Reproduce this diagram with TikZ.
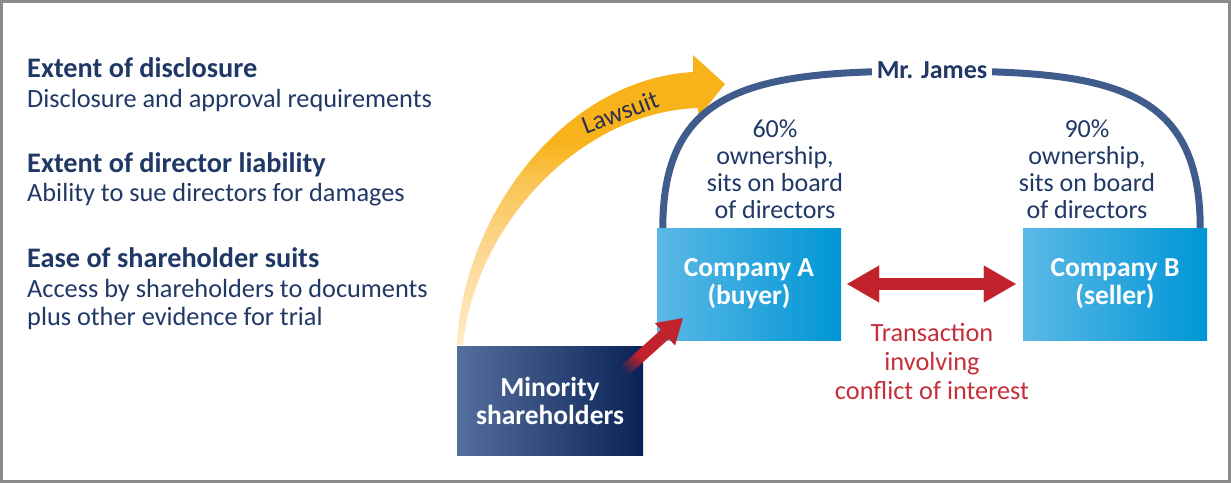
\documentclass[tikz,border=0pt]{standalone}
\usepackage{fontspec}
\setmainfont{Carlito}
\usetikzlibrary{arrows.meta,fadings}

\definecolor{navytext}{HTML}{1F3866}
\definecolor{arcblue}{HTML}{405C8C}
\definecolor{arrred}{HTML}{C1222B}
\definecolor{txred}{HTML}{C62F39}
\definecolor{compL}{HTML}{5BB8E6}
\definecolor{compR}{HTML}{0096D6}
\definecolor{minL}{HTML}{566E9E}
\definecolor{minR}{HTML}{0A2357}
\definecolor{gold}{HTML}{F8B31B}
\definecolor{lawA}{HTML}{FEEBC6}
\definecolor{lawB}{HTML}{FDD894}
\definecolor{lawC}{HTML}{FAC454}
\definecolor{lawtext}{HTML}{2E3050}
\definecolor{framegray}{HTML}{8C8C8C}

% pale tail of the lawsuit arrow turning gold towards its head
\pgfdeclareverticalshading{lawshade}{100bp}{color(0bp)=(lawA); color(25bp)=(lawA); color(41bp)=(lawB); color(53bp)=(lawC); color(60bp)=(gold); color(100bp)=(gold)}
% the red arrow fades in only near its tail
\pgfdeclarehorizontalshading{tailfadeshade}{100bp}{color(0bp)=(pgftransparent!100); color(22bp)=(pgftransparent!100); color(38bp)=(pgftransparent!0); color(100bp)=(pgftransparent!0)}
\pgfdeclarefading{tailfade}{\pgfuseshading{tailfadeshade}}

\begin{document}
\begin{tikzpicture}[x=1pt,y=-1pt,
  body/.style={font=\fontsize{26.3}{28}\selectfont, text=navytext, inner sep=0pt},
  head/.style={font=\fontsize{28.3}{28}\selectfont\bfseries, text=navytext, inner sep=0pt},
  own/.style={font=\fontsize{26}{27}\selectfont, text=navytext, align=center, inner sep=0pt},
  box/.style={minimum width=184pt, minimum height=112pt, inner sep=0pt, text=white,
    align=center, font=\fontsize{27.5}{28}\selectfont\bfseries},
  arcline/.style={draw=arcblue, line width=7pt},
  dblarrow/.style={draw=arrred, line width=12pt,
    {Triangle[width=37pt,length=32pt,line width=0.1pt]}-{Triangle[width=37pt,length=32pt,line width=0.1pt]}},
  redarrow/.style={draw=arrred, line width=12pt,
    -{Triangle[width=30pt,length=24pt,line width=0.1pt]}}
]
\useasboundingbox (0,0) rectangle (1231,483);
\draw[framegray, line width=2.5pt] (1.5,1.5) rectangle (1229.5,481.5);

% legend on the left
\node[head, anchor=base west] (h1) at (27,77) {Extent of disclosure};
\node[body, anchor=base west] (s1) at (27,107) {Disclosure and approval requirements};
\node[head, anchor=base west] (h2) at (27,172) {Extent of director liability};
\node[body, anchor=base west] (s2) at (27,201) {Ability to sue directors for damages};
\node[head, anchor=base west] (h3) at (27,267) {Ease of shareholder suits};
\node[body, anchor=base west] (s3) at (27,297) {Access by shareholders to documents};
\node[body, anchor=base west] (s4) at (27,325) {plus other evidence for trial};

% lawsuit arrow
\shade[shading=lawshade] (457,345) .. controls (462,220) and (560,80) .. (693,72)
  -- (693,55) -- (725,84) -- (698,118) -- (698,108)
  .. controls (580,112) and (475,225) .. (463,345) -- cycle;
\node[font=\fontsize{26}{26}\selectfont, text=lawtext, rotate=21, inner sep=0pt] (lw) at (620,112) {Lawsuit};

% company boxes
\node[box, left color=compL, right color=compR] (ca) at (749,284) {Company A\\(buyer)};
\node[box, left color=compL, right color=compR] (cb) at (1115,284) {Company B\\(seller)};

% Mr. James arc over both companies
\coordinate (top) at (932,71);
\draw[arcline] ([xshift=6pt]ca.north west) .. controls +(0,-144) and +(-172,0) .. (top)
  .. controls +(172,0) and +(0,-144) .. ([xshift=-7pt]cb.north east);
\node[font=\fontsize{26}{26}\selectfont\bfseries, text=navytext, fill=white,
  inner xsep=5pt, inner ysep=2pt, anchor=base] (mj) at (932,78) {Mr. James};

\node[own, anchor=north] (oa) at (775,120) {60\%\\ownership,\\sits on board\\of directors};
\node[own, anchor=north] (ob) at (1087,120) {90\%\\ownership,\\sits on board\\of directors};

% minority shareholders
\node[box, minimum width=186pt, minimum height=109pt, left color=minL, right color=minR]
  (ms) at (550,400.5) {Minority\\shareholders};

% transaction between the companies
\draw[dblarrow] ([xshift=6pt]ca.east) -- ([xshift=-7pt]cb.west);
\node[font=\fontsize{26.3}{29}\selectfont, text=txred, align=center, inner sep=0pt, anchor=north]
  (tx) at (932,323) {Transaction\\involving\\conflict of interest};

% minority shareholders act on company A
\coordinate (rtail) at ([shift={(-21,27)}]ms.north east);
\coordinate (rtip) at ([shift={(26,-22)}]ca.south west);
\draw[redarrow, path fading=tailfade, fading angle=42] (rtail) -- (rtip);
\end{tikzpicture}
\end{document}
